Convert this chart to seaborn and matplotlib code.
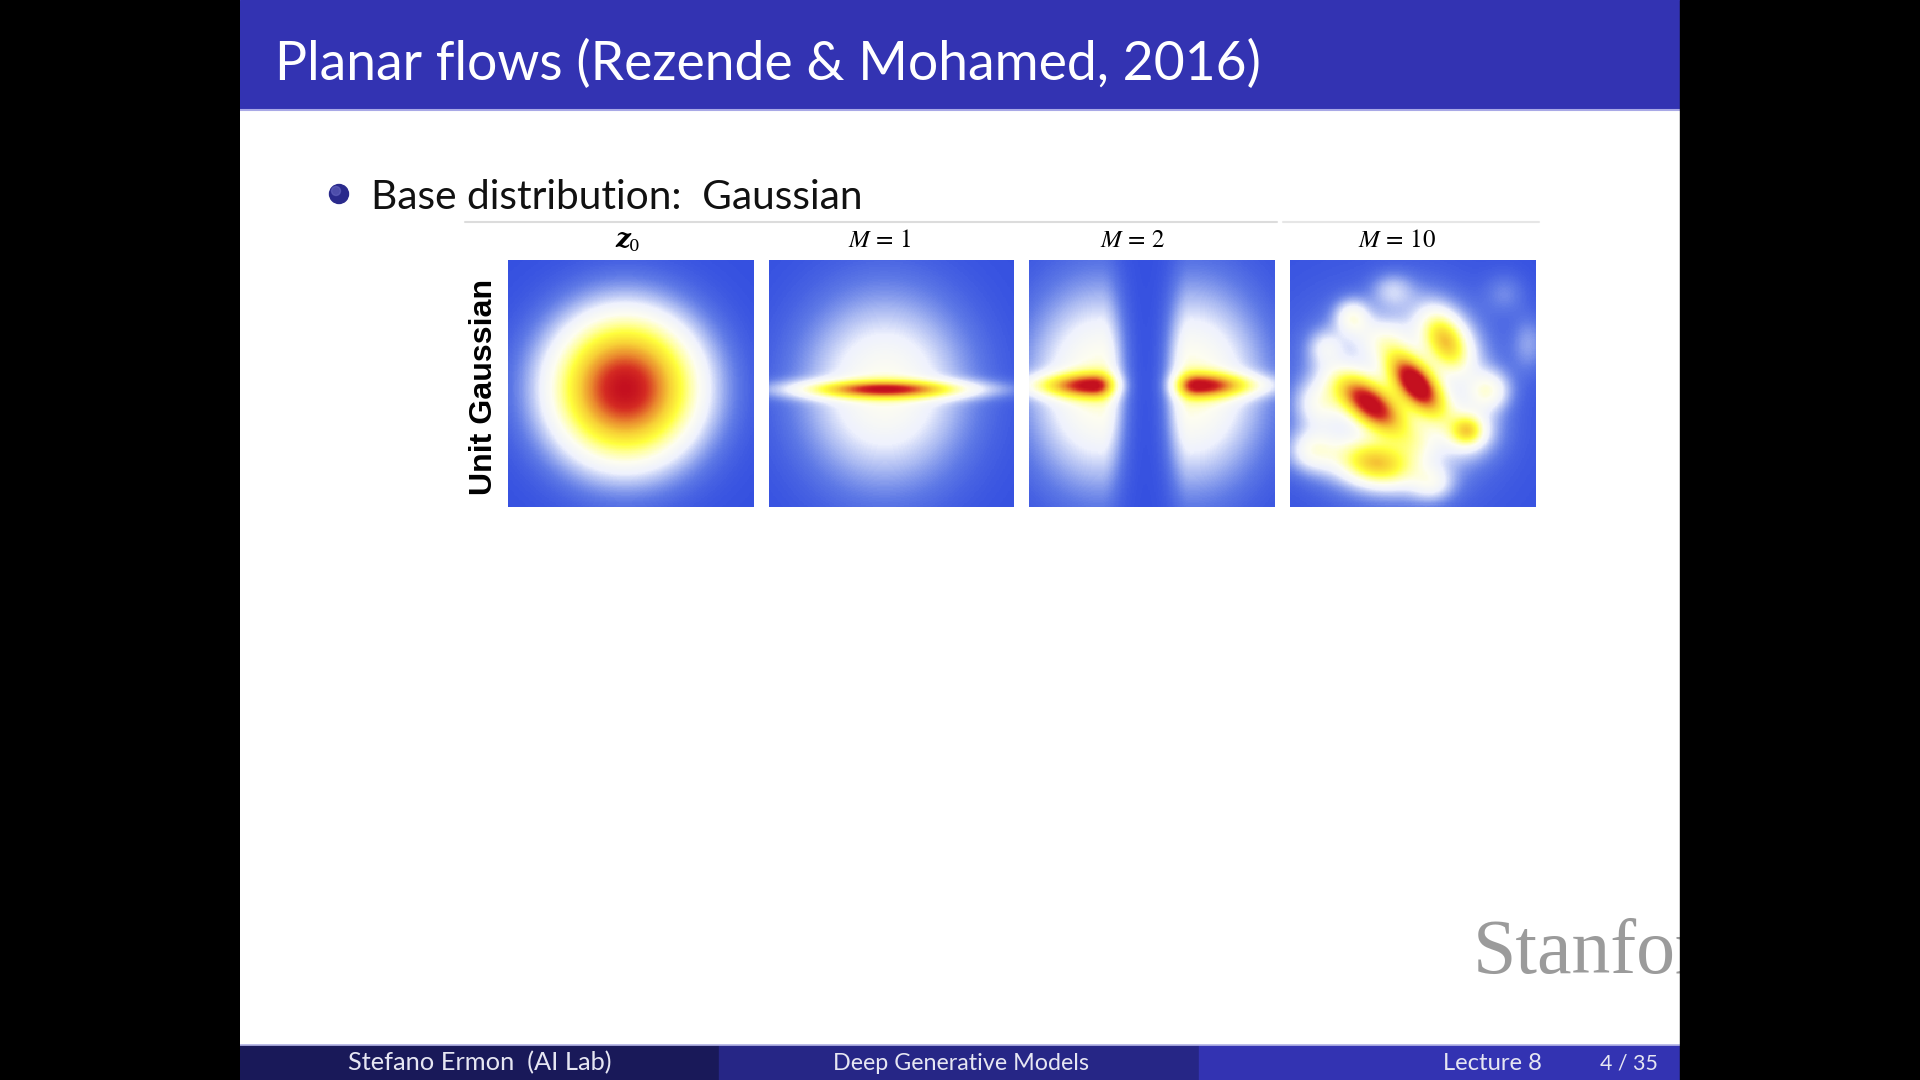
import numpy as np
import pandas as pd
import matplotlib
matplotlib.use("Agg")
import matplotlib.pyplot as plt
import seaborn as sns
from matplotlib.colors import LinearSegmentedColormap
from matplotlib.patches import Rectangle, Circle

sns.set_theme(style="white")
plt.rcParams["font.family"] = ["Lato", "DejaVu Sans"]
plt.rcParams["mathtext.fontset"] = "stix"

# ---- text -------------------------------------------------------------
SLIDE_TITLE = "Planar flows (Rezende & Mohamed, 2016)"
BULLET = "Base distribution:  Gaussian"
PANEL_TITLES = [("z", "0"), r"$M\,=\,1$", r"$M\,=\,2$", r"$M\,=\,10$"]
ROW_LABEL = "Unit Gaussian"
FOOTER = ["Stefano Ermon  (AI Lab)", "Deep Generative Models", "Lecture 8", "4 / 35"]

# ---- density components, plot units (x right, y up, both in [-2.5, 2.5]) ----
# (centre x, centre y, spread behind, spread ahead along the axis,
#  spread across the axis, axis angle in degrees, peak value)
Z0_COMPONENTS = [
    (-0.12, -0.10, 1.00, 1.00, 1.00, 0, 1.00),
]
M1_COMPONENTS = [
    (-0.14, -0.12, 1.15, 1.15, 1.30, 0, 0.32),   # broad glow
    (-0.14, -0.12, 1.45, 1.45, 0.14, 0, 0.34),   # horizontal streak
    (-0.14, -0.12, 0.80, 0.80, 0.11, 0, 0.36),   # red core
]
M2_COMPONENTS = [
    (-1.05, -0.05, 1.00, 0.32, 1.35, 0, 0.36),   # left lobe
    (-1.20, -0.04, 1.10, 0.28, 0.16, 0, 0.28),   # left streak
    (-1.22, -0.04, 0.60, 0.30, 0.18, 0, 0.42),   # left core
    (0.79, -0.05, 0.32, 1.00, 1.35, 0, 0.36),    # right lobe
    (0.94, -0.04, 0.28, 1.10, 0.16, 0, 0.28),    # right streak
    (0.96, -0.04, 0.30, 0.60, 0.18, 0, 0.42),    # right core
]
M10_COMPONENTS = [
    (-0.30, -0.20, 1.80, 1.80, 1.80, 0, 0.06),   # faint background
    (-0.45, -0.25, 1.10, 1.10, 0.75, -40, 0.17), # halo around the two ridges
    (0.06, -0.01, 0.50, 0.50, 0.25, -50, 0.95),  # upper ridge
    (-0.89, -0.41, 0.55, 0.55, 0.27, -38, 0.85), # lower ridge
    (0.65, 0.85, 0.70, 0.70, 0.50, -55, 0.20),   # halo upper-right
    (0.67, 0.87, 0.42, 0.42, 0.26, -60, 0.42),   # yellow upper-right
    (-0.80, -1.60, 0.85, 0.85, 0.50, -10, 0.18), # halo bottom
    (-0.76, -1.63, 0.50, 0.50, 0.28, -10, 0.42), # yellow bottom
    (1.10, -0.95, 0.45, 0.45, 0.40, 0, 0.20),    # halo right
    (1.11, -0.96, 0.22, 0.22, 0.20, 0, 0.36),    # yellow right
    (1.55, -0.14, 0.30, 0.30, 0.28, 0, 0.25),
    (-1.24, 1.35, 0.25, 0.25, 0.25, 0, 0.24),
    (-0.42, 1.89, 0.30, 0.30, 0.25, 0, 0.13),
    (-1.78, 0.74, 0.25, 0.25, 0.25, 0, 0.15),
    (-1.91, -0.41, 0.35, 0.35, 0.35, 0, 0.22),
    (-2.05, -1.36, 0.35, 0.35, 0.30, 0, 0.22),
    (0.39, -2.03, 0.30, 0.30, 0.25, 0, 0.17),
    (0.05, -1.22, 0.30, 0.30, 0.30, 0, 0.10),
    (1.88, 1.83, 0.30, 0.30, 0.30, 0, 0.07),
    (2.37, 0.81, 0.25, 0.25, 0.40, 0, 0.10),
    (-0.63, 0.94, 0.40, 0.40, 0.30, 0, 0.15),
]
PANELS = [Z0_COMPONENTS, M1_COMPONENTS, M2_COMPONENTS, M10_COMPONENTS]

# colour scale: blue -> white -> yellow -> orange -> red
CMAP_STOPS = [0.0, 0.03, 0.07, 0.14, 0.22, 0.32, 0.42, 0.52, 0.66, 0.79, 0.92, 1.0]
CMAP_COLORS = ["#3550e0", "#4560e2", "#5f7ae6", "#a6b6f1", "#eef1fd", "#fdfdf0",
               "#ffffa0", "#ffff3c", "#f7cf36", "#ea8a2e", "#d42a22", "#c4101f"]
cmap = LinearSegmentedColormap.from_list("bwyr", list(zip(CMAP_STOPS, CMAP_COLORS)))

N = 200
xs = np.linspace(-2.5, 2.5, N)
ys = np.linspace(2.5, -2.5, N)
GX, GY = np.meshgrid(xs, ys)


def density(components):
    z = np.zeros_like(GX)
    for cx, cy, sb, sf, sa, ang, peak in components:
        t = np.deg2rad(ang)
        dx, dy = GX - cx, GY - cy
        u = dx * np.cos(t) + dy * np.sin(t)
        v = -dx * np.sin(t) + dy * np.cos(t)
        su = np.where(u < 0, sb, sf)
        z += peak * np.exp(-0.5 * ((u / su) ** 2 + (v / sa) ** 2))
    return pd.DataFrame(z, index=np.round(ys, 3), columns=np.round(xs, 3))


W, H = 1920, 1080
fig = plt.figure(figsize=(W / 100, H / 100), dpi=100, facecolor="black")

# slide canvas in pixel coordinates
ax0 = fig.add_axes([240 / W, 0, 1440 / W, 1])
ax0.set_xlim(240, 1680)
ax0.set_ylim(1080, 0)
ax0.axis("off")
ax0.add_patch(Rectangle((240, 0), 1440, 1080, color="white", zorder=0))
ax0.add_patch(Rectangle((240, 0), 1440, 109, color="#3333b2", zorder=1))
ax0.plot([240, 1680], [109.5, 109.5], color="#a9a9e6", lw=1.5, zorder=2)

ax0.add_patch(Rectangle((240, 1045), 479, 35, color="#191959", zorder=1))
ax0.add_patch(Rectangle((719, 1045), 480, 35, color="#262686", zorder=1))
ax0.add_patch(Rectangle((1199, 1045), 481, 35, color="#3333b2", zorder=1))
ax0.plot([240, 1680], [1044.5, 1044.5], color="#b8b8e8", lw=1.2, zorder=2)

renderer = fig.canvas.get_renderer()


def fit(txt, size_px, use_height=False):
    bb = txt.get_window_extent(renderer=renderer)
    cur = bb.height if use_height else bb.width
    txt.set_fontsize(txt.get_fontsize() * size_px / cur)


t = ax0.text(275, 64, SLIDE_TITLE, color="white", fontsize=30, va="center", ha="left", zorder=3)
fit(t, 986)

# bullet ball
ax0.add_patch(Circle((339, 194), 9.5, color="#2a2a8c", zorder=3))
ax0.add_patch(Circle((336, 191), 4.5, color="#6a6ac4", alpha=0.55, zorder=4))
t = ax0.text(371, 209, BULLET, color="#111111", fontsize=28, va="baseline", ha="left", zorder=3)
fit(t, 492)

# thin rules above the figure
ax0.plot([465, 1277], [222, 222], color="#dcdcdc", lw=1.5, zorder=2)
ax0.plot([1283, 1539], [222, 222], color="#e6e6e6", lw=1.5, zorder=2)

# footer
for txt, cx, wpx in zip(FOOTER, [480, 961, 1492, 1629], [264, 256, 100, 58]):
    t = ax0.text(cx, 1063, txt, color="#e6e6f2", fontsize=16, va="center", ha="center", zorder=3)
    fit(t, wpx)

# watermark
ax0.text(1473, 973, "Stanford", color="#9b9b9b", fontsize=56, family="Liberation Serif",
         va="baseline", ha="left", zorder=3, clip_on=True)

# row label
t = ax0.text(484, 387, ROW_LABEL, rotation=90, color="black", fontsize=22,
             family="Liberation Sans", fontweight="bold", va="center", ha="center", zorder=3)
fit(t, 216, use_height=True)

# density panels
lefts = [508, 768.5, 1029, 1290]
title_x = [627, 880, 1133, 1397]
for comps, left, title, tx in zip(PANELS, lefts, PANEL_TITLES, title_x):
    ax = fig.add_axes([left / W, (1080 - 507) / H, 246 / W, 247 / H])
    sns.heatmap(density(comps), ax=ax, cmap=cmap, vmin=0, vmax=1, cbar=False,
                xticklabels=False, yticklabels=False, rasterized=True)
    ax.set_xlabel("")
    ax.set_ylabel("")
    if isinstance(title, tuple):
        # bold italic vector symbol with a subscript
        ax0.text(tx - 4, 247, title[0], color="black", fontsize=19, family="DejaVu Serif",
                 style="italic", weight="bold", va="baseline", ha="center", zorder=3)
        ax0.text(tx + 7, 251, title[1], color="black", fontsize=12, family="DejaVu Serif",
                 va="baseline", ha="center", zorder=3)
    else:
        ax0.text(tx, 247, title, color="black", fontsize=18, va="baseline", ha="center", zorder=3)

# outside-slide margins
fig.add_artist(Rectangle((1680 / W, 0), 240 / W, 1, transform=fig.transFigure,
                         color="black", zorder=10))

fig.savefig("out.png", dpi=100, facecolor="black")
